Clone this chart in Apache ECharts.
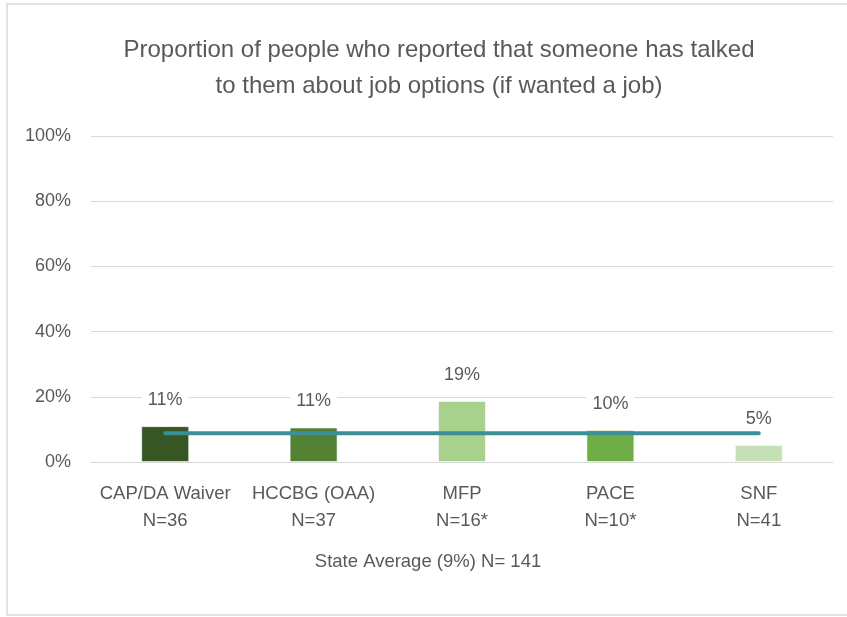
<!DOCTYPE html>
<html><head><meta charset="utf-8">
<script src="https://cdn.jsdelivr.net/npm/echarts@6/dist/echarts.min.js"></script>
<style>html,body{margin:0;padding:0;background:#fff}#c{width:847px;height:617px}</style>
</head><body><div id="c"></div>
<script>
const categories = ['CAP/DA Waiver\nN=36', 'HCCBG (OAA)\nN=37', 'MFP\nN=16*', 'PACE\nN=10*', 'SNF\nN=41'];
const values = [11, 10.6, 18.7, 9.8, 5.2];
const labels = ['11%', '11%', '19%', '10%', '5%'];
const barColors = ['#375623', '#548235', '#a9d18e', '#70ad47', '#c5e0b4'];
const stateAverage = [8.8, 8.8, 8.8, 8.8, 8.8];
const yTicks = [0, 20, 40, 60, 80, 100];

const FONT = '"Liberation Sans", sans-serif';
const chart = echarts.init(document.getElementById('c'), null, {renderer: 'canvas'});
chart.setOption({
  animation: false,
  backgroundColor: '#fff',
  graphic: [
    {type: 'rect', shape: {x: 7, y: 4, width: 900, height: 611}, style: {fill: 'none', stroke: '#d9d9d9', lineWidth: 1.5}, z: -1},
    {type: 'text', x: 428, y: 562, style: {text: 'State Average (9%) N= 141', fill: '#595959', font: '18.5px ' + FONT, textAlign: 'center', textVerticalAlign: 'middle'}}
  ],
  title: {
    text: 'Proportion of people who reported that someone has talked\nto them about job options (if wanted a job)',
    left: 434, top: 27, textAlign: 'center',
    textStyle: {color: '#595959', fontSize: 24, fontWeight: 'normal', fontFamily: FONT, lineHeight: 36}
  },
  grid: {left: 91, right: 14, top: 136, bottom: 155, containLabel: false},
  xAxis: {
    type: 'category', data: categories,
    axisLine: {show: true, lineStyle: {color: '#d9d9d9'}},
    axisTick: {show: false},
    axisLabel: {interval: 0, color: '#595959', fontSize: 18.5, fontFamily: FONT, lineHeight: 27, margin: 18}
  },
  yAxis: {
    type: 'value', min: 0, max: 100, interval: 20,
    axisLabel: {formatter: v => yTicks.includes(v) ? v + '%' : '', color: '#595959', fontSize: 18, fontFamily: FONT, margin: 20},
    axisLine: {show: false}, axisTick: {show: false},
    splitLine: {lineStyle: {color: '#d9d9d9', width: 1}}
  },
  series: [
    {
      type: 'bar', barWidth: 48,
      data: values.map((v, i) => ({value: v, itemStyle: {color: barColors[i]}})),
      itemStyle: {borderColor: 'rgba(255,255,255,0.6)', borderWidth: 1},
      label: {
        show: true, position: 'top', distance: 15,
        formatter: p => labels[p.dataIndex],
        color: '#595959', fontSize: 18, fontFamily: FONT,
        backgroundColor: '#fff', padding: [2, 6]
      },
      z: 2
    },
    {
      type: 'line', data: stateAverage, symbol: 'none',
      lineStyle: {color: '#3a9096', width: 4, cap: 'round'},
      z: 3
    }
  ]
});
</script></body></html>
